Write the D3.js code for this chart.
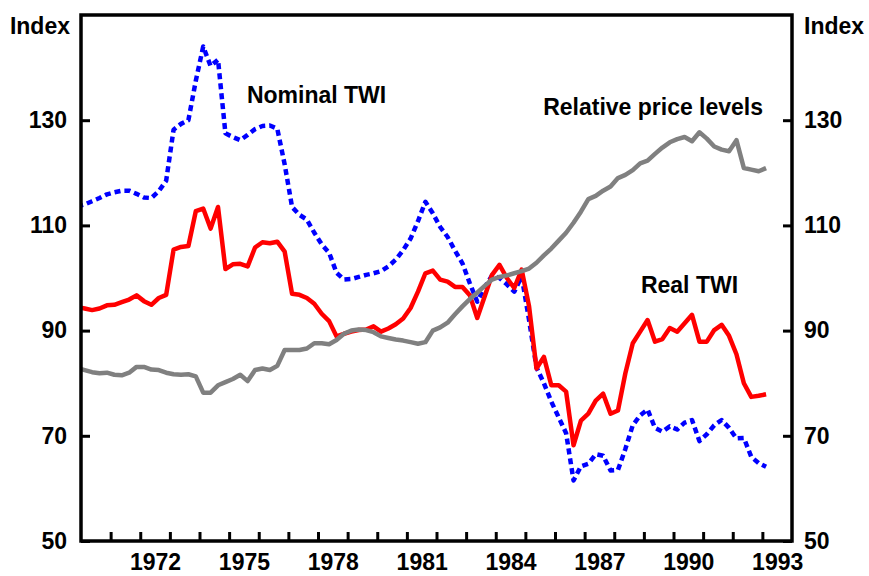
<!DOCTYPE html>
<html>
<head>
<meta charset="utf-8">
<script src="https://cdn.jsdelivr.net/npm/d3@7"></script>
<style>
  body { margin: 0; background: #fff; }
  svg text { font-family: Arial, "Liberation Sans", sans-serif; font-weight: bold; font-size: 23px; fill: #000; }
</style>
</head>
<body>
<svg id="chart"></svg>
<script>
// quarterly observations, 1969Q4 .. 1993Q1
const quarters = d3.range(94).map((i) => 1969 + Math.floor((i + 3) / 4) + 'Q' + (((i + 3) % 4) + 1));

const nominalTWI = [
  113.6, 114.0, 114.6, 115.2, 115.9, 116.3, 116.6, 116.6, 116.0, 115.3, 115.2, 116.5, 118.5, 128.2, 129.3, 130.0, 137.5, 144.0, 140.3, 141.5,
  127.5, 126.8, 126.2, 127.2, 128.3, 128.9, 129.0, 128.4, 121.6, 113.5,
  112.0, 111.1, 108.6, 106.4, 104.8, 101.0, 99.7, 99.8, 100.2, 100.6,
  100.9, 101.3, 102.2, 103.5, 105.3, 107.5, 110.8, 114.5, 112.3, 109.7,
  107.8, 105.2, 102.8, 99.0, 95.5, 98.2, 100.5, 100.0, 98.8, 97.4,
  100.3, 92.0, 83.0, 80.0, 76.5, 73.5, 70.5, 61.5, 64.2, 64.7,
  66.5, 66.2, 63.4, 63.5, 67.5, 72.0, 73.9, 75.0, 71.5, 70.8,
  71.8, 71.2, 72.5, 73.0, 69.0, 70.3, 72.0, 73.0, 71.5, 69.5,
  69.6, 66.0, 64.8, 64.1
];

const realTWI = [
  94.5, 94.2, 93.9, 94.2, 94.8, 94.9, 95.4, 95.9, 96.7, 95.6, 94.9, 96.2, 96.8, 105.4, 105.9, 106.1, 112.7, 113.2, 109.4, 113.5,
  101.7, 102.6, 102.7, 102.2, 105.8, 106.8, 106.6, 106.9, 105.0, 97.0,
  96.8, 96.2, 95.1, 93.2, 91.8, 88.9, 89.4, 89.8, 90.1, 90.2,
  90.8, 89.8, 90.4, 91.2, 92.3, 94.3, 97.4, 100.9, 101.4, 99.7,
  99.3, 98.3, 98.3, 96.7, 92.4, 96.5, 100.6, 102.5, 100.0, 98.1,
  101.6, 94.6, 82.8, 85.0, 79.6, 79.6, 78.4, 68.2, 72.9, 74.2,
  76.7, 78.0, 74.2, 74.8, 81.9, 87.6, 89.8, 92.0, 87.9, 88.4,
  90.5, 89.8, 91.4, 93.0, 87.9, 87.9, 90.1, 91.1, 89.0, 85.5,
  80.0, 77.4, 77.6, 77.9
];

const relativePrices = [
  82.9, 82.5, 82.1, 81.9, 82.0, 81.6, 81.5, 82.0, 83.1, 83.1, 82.6, 82.5, 82.0, 81.7, 81.6, 81.7, 81.3, 78.2, 78.2, 79.6,
  80.2, 80.8, 81.6, 80.4, 82.5, 82.8, 82.5, 83.3, 86.3, 86.3,
  86.3, 86.6, 87.6, 87.6, 87.4, 88.2, 89.4, 90.0, 90.2, 90.1,
  89.7, 88.9, 88.6, 88.3, 88.1, 87.8, 87.5, 87.8, 90.0, 90.6,
  91.5, 93.1, 94.6, 96.0, 97.2, 98.5, 99.7, 100.2, 100.5, 100.9,
  101.3, 101.8, 102.9, 104.3, 105.6, 107.1, 108.6, 110.5, 112.6, 115.0,
  115.6, 116.6, 117.4, 119.0, 119.6, 120.5, 121.8, 122.3, 123.6, 124.8,
  125.8, 126.4, 126.8, 126.0, 127.7, 126.5, 125.0, 124.4, 124.1, 126.2,
  120.9, 120.6, 120.3, 120.9
];

const yTicks = [50, 70, 90, 110, 130];
const yearLabels = [1972, 1975, 1978, 1981, 1984, 1987, 1990, 1993];

const margin = { top: 15, right: 77, bottom: 35, left: 81 };
const width = 869 - margin.left - margin.right;
const height = 576 - margin.top - margin.bottom;

const svg = d3
  .select('#chart')
  .attr('width', 869)
  .attr('height', 576)
  .append('g')
  .attr('transform', `translate(${margin.left},${margin.top})`);

// scales
const xScale = d3.scaleLinear().domain([1970, 1994]).range([0, width]);
const yScale = d3.scaleLinear().domain([50, 150]).range([height, 0]);

// quarter label -> mid-quarter time
const qTime = (q) => +q.slice(0, 4) + (+q.slice(5) - 0.5) / 4;

const toPoints = (values) => quarters.map((q, i) => ({ t: qTime(q), v: values[i] }));

svg
  .append('clipPath')
  .attr('id', 'plot-clip')
  .append('rect')
  .attr('width', width)
  .attr('height', height);

const line = d3
  .line()
  .x((d) => xScale(d.t))
  .y((d) => yScale(d.v));

const series = [
  { values: nominalTWI, color: '#0000ff', width: 4.5, dash: '6,4' },
  { values: realTWI, color: '#ff0000', width: 4.5, dash: null },
  { values: relativePrices, color: '#808080', width: 4.5, dash: null }
];

const lines = svg.append('g').attr('clip-path', 'url(#plot-clip)');

series.forEach((s) => {
  lines
    .append('path')
    .datum(toPoints(s.values))
    .attr('fill', 'none')
    .attr('stroke', s.color)
    .attr('stroke-width', s.width)
    .attr('stroke-linejoin', 'round')
    .attr('stroke-dasharray', s.dash)
    .attr('d', line);
});

// axes
const styleAxis = (g) => {
  g.select('.domain').remove();
  g.selectAll('.tick line').attr('stroke', '#000').attr('stroke-width', 3);
  g.selectAll('.tick text').attr('fill', '#000').style('font-size', '23px');
};

svg
  .append('g')
  .call(d3.axisLeft(yScale).tickValues(yTicks).tickSize(-9).tickPadding(14))
  .call(styleAxis);

svg
  .append('g')
  .attr('transform', `translate(${width},0)`)
  .call(d3.axisRight(yScale).tickValues(yTicks).tickSize(-9).tickPadding(12))
  .call(styleAxis);

svg
  .append('g')
  .attr('transform', `translate(0,${height})`)
  .call(d3.axisBottom(xScale).tickValues(d3.range(1971, 1994)).tickSize(-9).tickFormat(''))
  .call(styleAxis);

svg
  .append('g')
  .attr('transform', `translate(0,${height})`)
  .call(
    d3
      .axisBottom(xScale)
      .tickValues(yearLabels.map((y) => y + 0.5))
      .tickSize(0)
      .tickPadding(13)
      .tickFormat((d) => Math.floor(d))
  )
  .call(styleAxis);

// frame
svg
  .append('rect')
  .attr('width', width)
  .attr('height', height)
  .attr('fill', 'none')
  .attr('stroke', '#000')
  .attr('stroke-width', 3.5);

// axis titles
svg.append('text').attr('x', -11).attr('y', 19).attr('text-anchor', 'end').text('Index');
svg.append('text').attr('x', width + 12).attr('y', 19).text('Index');

// series labels
svg.append('text').attr('x', xScale(1975.6)).attr('y', yScale(133.2)).text('Nominal TWI');
svg.append('text').attr('x', xScale(1985.6)).attr('y', yScale(131.0)).text('Relative price levels');
svg.append('text').attr('x', xScale(1988.9)).attr('y', yScale(97.1)).text('Real TWI');
</script>
</body>
</html>
